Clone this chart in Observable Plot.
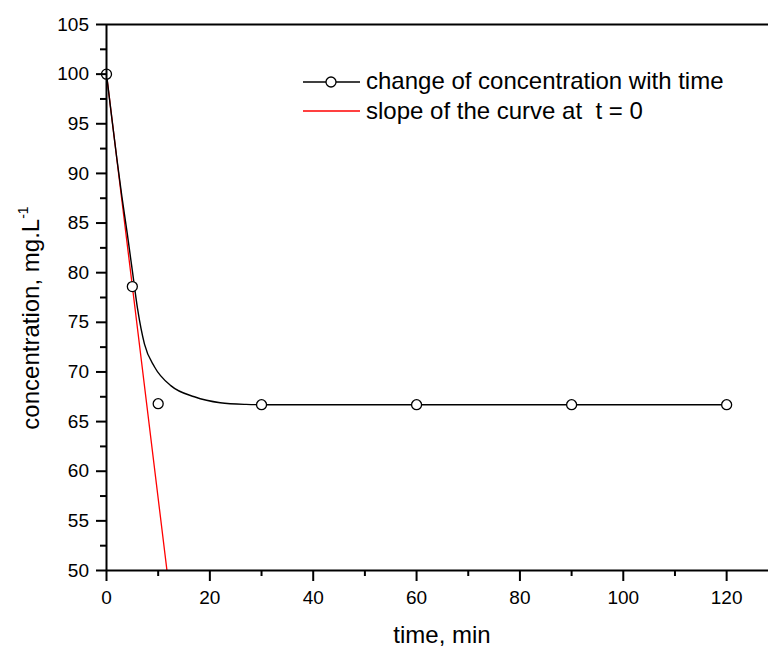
<!DOCTYPE html>
<html>
<head>
<meta charset="utf-8">
<script src="https://cdn.jsdelivr.net/npm/d3@7"></script>
<script src="https://cdn.jsdelivr.net/npm/@observablehq/plot@0.6"></script>
<style>
  html, body { margin: 0; padding: 0; background: #fff; }
  svg text { white-space: pre; }
</style>
</head>
<body>
<script>
// Observed data points
const obsTime = [0, 5, 10, 30, 60, 90, 120];
const obsConc = [100, 78.6, 66.8, 66.7, 66.7, 66.7, 66.7];

// Fitted curve
const fitTime = [0, 1, 2, 3, 4, 5, 6, 7.35, 9.3, 12.5, 17, 22, 27, 30, 40, 60, 90, 120];
const fitConc = [100, 95.7, 91.5, 87.6, 84.0, 80.2, 76.4, 72.8, 70.5, 68.6, 67.5, 66.9, 66.73, 66.7, 66.7, 66.7, 66.7, 66.7];

// Initial slope line
const slopeTime = [0, 11.7];
const slopeConc = [100, 50];

// Ticks
const xMajor = [0, 20, 40, 60, 80, 100, 120];
const xMinor = [10, 30, 50, 70, 90, 110];
const yMajor = [50, 55, 60, 65, 70, 75, 80, 85, 90, 95, 100, 105];
const yMinor = [52.5, 57.5, 62.5, 67.5, 72.5, 77.5, 82.5, 87.5, 92.5, 97.5, 102.5];

// Labels
const xTitle = "time, min";
const yTitle = "concentration, mg.L";
const yTitleSup = "-1";
const legendLabels = ["change of concentration with time", "slope of the curve at  t = 0"];

const obs = obsTime.map((t, i) => ({t, c: obsConc[i]}));
const fit = fitTime.map((t, i) => ({t, c: fitConc[i]}));
const slope = slopeTime.map((t, i) => ({t, c: slopeConc[i]}));

const svg = Plot.plot({
  width: 768,
  height: 649,
  marginLeft: 106,
  marginRight: 0,
  marginTop: 24,
  marginBottom: 79,
  style: {fontFamily: "'Liberation Sans', Arial, sans-serif", fontSize: "19px", background: "#fff", color: "#000"},
  x: {domain: [0, 128.1]},
  y: {domain: [50, 105]},
  marks: [
    Plot.line(slope, {x: "t", y: "c", stroke: "#ff0000", strokeWidth: 1.3, clip: true}),
    Plot.line(fit, {x: "t", y: "c", stroke: "#000", strokeWidth: 1.4, curve: "monotone-x"}),
    Plot.dot(obs, {x: "t", y: "c", r: 5, fill: "#fff", stroke: "#000", strokeWidth: 1.3}),
    Plot.ruleX([0], {stroke: "#000", strokeWidth: 2}),
    Plot.ruleY([50], {stroke: "#000", strokeWidth: 2}),
    Plot.ruleY([105], {stroke: "#000", strokeWidth: 2}),
    Plot.axisY(yMajor, {anchor: "left", tickSize: 10, tickPadding: 7.5, fontSize: 19, strokeWidth: 2, label: null}),
    Plot.axisY(yMinor, {anchor: "left", tickSize: 6, strokeWidth: 2, tickFormat: () => "", label: null}),
    Plot.axisX(xMajor, {anchor: "bottom", tickSize: 11, tickPadding: 9, fontSize: 19, strokeWidth: 2, label: null}),
    Plot.axisX(xMinor, {anchor: "bottom", tickSize: 6, strokeWidth: 2, tickFormat: () => "", label: null})
  ]
});

document.body.appendChild(svg);

const s = d3.select(svg);
const font = "'Liberation Sans', Arial, sans-serif";

// X title
s.append("text")
  .attr("x", 442).attr("y", 643)
  .attr("text-anchor", "middle")
  .attr("font-family", font).attr("font-size", 24).attr("fill", "#000")
  .text(xTitle);

// Y title
const yt = s.append("text")
  .attr("transform", "translate(38.5,318) rotate(-90)")
  .attr("text-anchor", "middle")
  .attr("font-family", font).attr("font-size", 24).attr("fill", "#000");
yt.append("tspan").text(yTitle);
yt.append("tspan").attr("font-size", 14).attr("dy", -11).text(yTitleSup);

// Legend
const lg = s.append("g").attr("font-family", font).attr("font-size", 24)
  .attr("fill", "#000").attr("text-anchor", "start");
lg.append("line").attr("x1", 303).attr("x2", 360).attr("y1", 82).attr("y2", 82)
  .attr("stroke", "#000").attr("stroke-width", 1.4);
lg.append("circle").attr("cx", 331).attr("cy", 82).attr("r", 5)
  .attr("fill", "#fff").attr("stroke", "#000").attr("stroke-width", 1.3);
lg.append("text").attr("x", 366).attr("y", 89).text(legendLabels[0]);
lg.append("line").attr("x1", 303).attr("x2", 360).attr("y1", 111).attr("y2", 111)
  .attr("stroke", "#ff0000").attr("stroke-width", 1.3);
lg.append("text").attr("x", 366).attr("y", 119).text(legendLabels[1]);
</script>
</body>
</html>
